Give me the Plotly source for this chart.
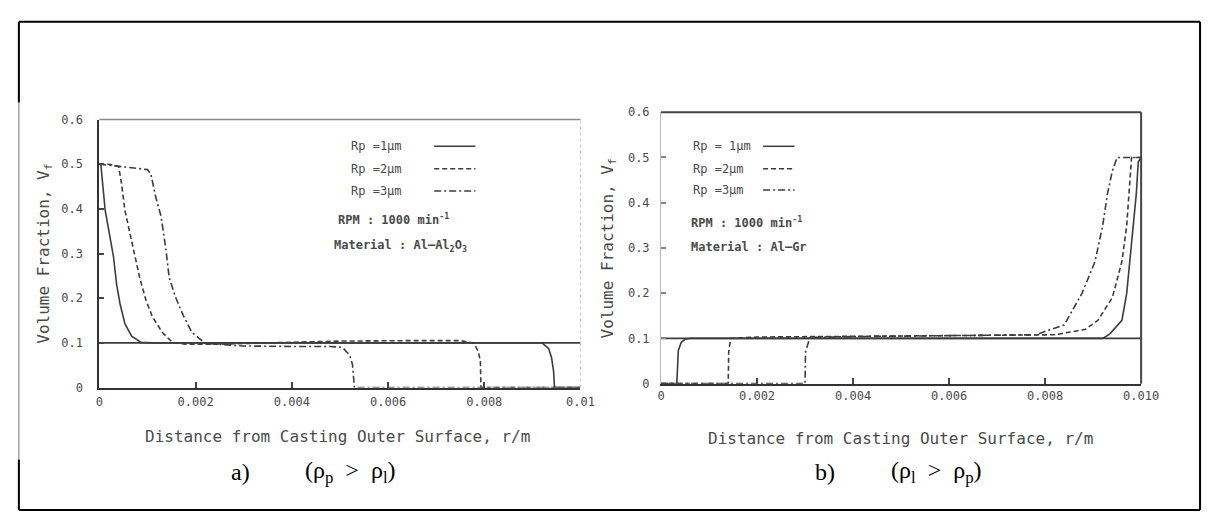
import plotly.graph_objects as go

# ---------------- data ----------------
# (a) rho_p > rho_l  (Al-Al2O3)
a_x_rp1 = [0, 0.00003, 0.00012, 0.00021, 0.00029, 0.00036, 0.00043, 0.00053, 0.00067, 0.00087,
           0.0011, 0.002, 0.004, 0.006, 0.008, 0.0092, 0.00934, 0.0094, 0.00944, 0.00946, 0.01]
a_y_rp1 = [0.5, 0.5, 0.397, 0.346, 0.295, 0.23, 0.187, 0.143, 0.115, 0.101,
           0.1, 0.1, 0.1, 0.1, 0.1, 0.1, 0.087, 0.066, 0.037, 0.0, 0.0]
a_x_rp2 = [0, 0.0002, 0.0004, 0.00046, 0.00053, 0.00063, 0.00073, 0.00084, 0.00097, 0.0011,
           0.00131, 0.00152, 0.0018, 0.0025, 0.0035, 0.005, 0.0065, 0.0075, 0.00778, 0.00788,
           0.00792, 0.00793, 0.01]
a_y_rp2 = [0.5, 0.5, 0.495, 0.457, 0.397, 0.346, 0.295, 0.245, 0.195, 0.159,
           0.123, 0.101, 0.097, 0.097, 0.1, 0.104, 0.105, 0.105, 0.1, 0.08,
           0.057, 0.0, 0.0]
a_x_rp3 = [0, 0.0004, 0.00092, 0.001, 0.00107, 0.00117, 0.00128, 0.00138, 0.00145, 0.00158,
           0.00175, 0.00192, 0.0022, 0.003, 0.004, 0.0048, 0.00505, 0.0052, 0.00526, 0.00529,
           0.0053, 0.01]
a_y_rp3 = [0.5, 0.495, 0.49, 0.488, 0.478, 0.427, 0.384, 0.312, 0.247, 0.203,
           0.16, 0.124, 0.099, 0.093, 0.092, 0.092, 0.09, 0.073, 0.052, 0.016,
           0.0, 0.0]

# (b) rho_l > rho_p  (Al-Gr)
b_x_rp1 = [0, 0.00033, 0.00036, 0.00042, 0.0005, 0.0006, 0.002, 0.005, 0.008, 0.0092,
           0.00935, 0.0096, 0.0097, 0.0098, 0.0099, 0.00994, 0.01]
b_y_rp1 = [0.0, 0.0, 0.073, 0.091, 0.098, 0.1, 0.1, 0.1, 0.1, 0.1,
           0.11, 0.14, 0.2, 0.31, 0.42, 0.49, 0.5]
b_x_rp2 = [0, 0.0014, 0.00141, 0.00145, 0.002, 0.004, 0.006, 0.0082, 0.00884, 0.0091,
           0.0094, 0.0096, 0.0097, 0.00976, 0.0098, 0.01]
b_y_rp2 = [0.0, 0.0, 0.07, 0.1, 0.103, 0.105, 0.107, 0.108, 0.12, 0.14,
           0.19, 0.27, 0.35, 0.44, 0.5, 0.5]
b_x_rp3 = [0, 0.003, 0.00301, 0.0031, 0.004, 0.006, 0.0078, 0.0084, 0.00877, 0.00904,
           0.0092, 0.0093, 0.0094, 0.0095, 0.01]
b_y_rp3 = [0.0, 0.0, 0.07, 0.102, 0.104, 0.106, 0.108, 0.13, 0.2, 0.27,
           0.35, 0.42, 0.47, 0.5, 0.5]

# initial volume fraction line
initial_x = [0, 0.01]
initial_y = [0.1, 0.1]

x_tickvals = [0, 0.002, 0.004, 0.006, 0.008, 0.010]
a_x_ticktext = ["0", "0.002", "0.004", "0.006", "0.008", "0.01"]
b_x_ticktext = ["0", "0.002", "0.004", "0.006", "0.008", "0.010"]
y_tickvals = [0, 0.1, 0.2, 0.3, 0.4, 0.5, 0.6]
y_ticktext = ["0", "0.1", "0.2", "0.3", "0.4", "0.5", "0.6"]

legend_a = ["Rp =1µm", "Rp =2µm", "Rp =3µm"]
legend_b = ["Rp = 1µm", "Rp =2µm", "Rp =3µm"]
rpm_text = "<b>RPM : 1000 min<sup>-1</sup></b>"
material_a = "<b>Material : Al\u2013Al<sub>2</sub>O<sub>3</sub></b>"
material_b = "<b>Material : Al\u2013Gr</b>"
x_title = "Distance from Casting Outer Surface, r/m"
y_title = "Volume Fraction, V<sub>f</sub>"
NB = "\u00a0"
caption_a = ["a)", "(\u03c1<sub>p</sub>" + NB * 2 + ">" + NB * 2 + "\u03c1<sub>l</sub>)"]
caption_b = ["b)", "(\u03c1<sub>l</sub>" + NB * 2 + ">" + NB * 2 + "\u03c1<sub>p</sub>)"]

# ---------------- styling ----------------
W, H = 1212, 512
def fx(p):
    return p / W
def fy(p):
    return 1 - p / H

MONO = "DejaVu Sans Mono"
TXT = "#4a4a4a"
LC = "#3c3c3c"
DASHES = ["solid", "5px,3px", "7px,3px,2px,3px"]

fig = go.Figure()

sets = [
    ("x", "y", [(a_x_rp1, a_y_rp1), (a_x_rp2, a_y_rp2), (a_x_rp3, a_y_rp3)]),
    ("x2", "y2", [(b_x_rp1, b_y_rp1), (b_x_rp2, b_y_rp2), (b_x_rp3, b_y_rp3)]),
]
for xa, ya, series in sets:
    fig.add_trace(go.Scatter(x=initial_x, y=initial_y, mode="lines", xaxis=xa, yaxis=ya,
                             line=dict(color=LC, width=1.6), showlegend=False, hoverinfo="skip"))
    for (xs, ys), d in zip(series, DASHES):
        fig.add_trace(go.Scatter(x=xs, y=ys, mode="lines", xaxis=xa, yaxis=ya,
                                 line=dict(color=LC, width=1.6, dash=d),
                                 showlegend=False))

common_x = dict(range=[0, 0.01], tickvals=x_tickvals, showgrid=False, zeroline=False,
                ticks="inside", ticklen=6, tickwidth=1.5, tickcolor="#444",
                tickfont=dict(family=MONO, size=12, color=TXT),
                showline=True, linecolor="#333", linewidth=2)
common_y = dict(range=[0, 0.6], tickvals=y_tickvals, ticktext=y_ticktext, showgrid=False,
                zeroline=False, ticks="inside", ticklen=5, tickwidth=1.5,
                tickfont=dict(family=MONO, size=12, color=TXT), showline=True)

fig.update_layout(
    width=W, height=H, margin=dict(l=0, r=0, t=0, b=0),
    paper_bgcolor="white", plot_bgcolor="white", showlegend=False,
    xaxis=dict(common_x, domain=[fx(89), fx(579)], anchor="y", ticktext=a_x_ticktext,
               ticklabelstandoff=2),
    yaxis=dict(common_y, domain=[fy(383), fy(107.5)], anchor="x", linecolor="#333",
               linewidth=2, tickcolor="#444", ticklabelstandoff=12),
    xaxis2=dict(common_x, domain=[fx(661), fx(1150)], anchor="y2", ticktext=b_x_ticktext,
                ticklabelstandoff=0),
    yaxis2=dict(common_y, domain=[fy(379), fy(100)], anchor="x2", linecolor="#bbbbbb",
                linewidth=1, tickcolor="#888", ticklabelstandoff=8),
)

shapes = []
# plot frames (top/right edges)
shapes.append(dict(type="line", xref="x domain", yref="y domain", x0=0, x1=1, y0=1, y1=1,
                   line=dict(color="#888", width=1.5)))
shapes.append(dict(type="line", xref="x domain", yref="y domain", x0=1, x1=1, y0=0, y1=1,
                   line=dict(color="#c4c4c4", width=1, dash="dot")))
shapes.append(dict(type="line", xref="x2 domain", yref="y2 domain", x0=0, x1=1, y0=1, y1=1,
                   line=dict(color="#444", width=2)))
shapes.append(dict(type="line", xref="x2 domain", yref="y2 domain", x0=1, x1=1, y0=0, y1=1,
                   line=dict(color="#444", width=2)))

# outer page border
def pline(x0, y0, x1, y1, color="black", width=2):
    shapes.append(dict(type="line", xref="paper", yref="paper", x0=fx(x0), x1=fx(x1),
                       y0=fy(y0), y1=fy(y1), line=dict(color=color, width=width)))
pline(7, 7, 1210, 7)
pline(7, 509, 1210, 509)
pline(1210, 7, 1210, 509)
pline(7, 7, 7, 90)
pline(7, 90, 7, 457, color="#777", width=1)
pline(7, 457, 7, 509)

annotations = []
def text(x, y, t, size=12, anchor="left", font=MONO, color=TXT, angle=0):
    annotations.append(dict(xref="paper", yref="paper", x=fx(x), y=fy(y), text=t,
                            showarrow=False, xanchor=anchor, yanchor="middle",
                            textangle=angle, font=dict(family=font, size=size, color=color)))

# legends
leg_a_y = [135, 158, 181]
for lab, yy, d in zip(legend_a, leg_a_y, DASHES):
    text(343, yy, lab)
    shapes.append(dict(type="line", xref="paper", yref="paper", x0=fx(430), x1=fx(472),
                       y0=fy(yy), y1=fy(yy), line=dict(color=LC, width=1.5, dash=d)))
text(330, 210, rpm_text)
text(326, 238, material_a)

leg_b_y = [135, 158, 180]
for lab, yy, d in zip(legend_b, leg_b_y, DASHES):
    text(692, yy, lab)
    shapes.append(dict(type="line", xref="paper", yref="paper", x0=fx(765), x1=fx(797),
                       y0=fy(yy), y1=fy(yy), line=dict(color=LC, width=1.5, dash=d)))
text(690, 213, rpm_text)
text(690, 239, material_b)

# axis titles
text(332, 433, x_title, size=16, anchor="center")
text(905, 435, x_title, size=16, anchor="center")
text(33, 245, y_title, size=16, anchor="center", angle=-90)
text(607, 240, y_title, size=16, anchor="center", angle=-90)

# captions
SERIF = "Liberation Serif"
text(233, 470, caption_a[0], size=24, anchor="center", font=SERIF, color="black")
text(345, 470, caption_a[1], size=24, anchor="center", font=SERIF, color="black")
text(828, 470, caption_b[0], size=24, anchor="center", font=SERIF, color="black")
text(942, 470, caption_b[1], size=24, anchor="center", font=SERIF, color="black")

fig.update_layout(shapes=shapes, annotations=annotations)
fig.write_html("out.html")
